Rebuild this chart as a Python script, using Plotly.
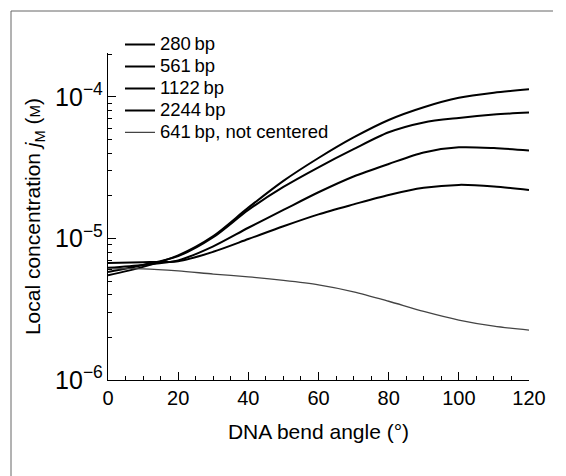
import plotly.graph_objects as go

angles = [0, 10, 20, 30, 40, 50, 60, 70, 80, 90, 100, 110, 120]

bp280 = [5.5e-6, 6.3e-6, 7.6e-6, 1.04e-5, 1.65e-5, 2.55e-5, 3.7e-5, 5.17e-5, 6.87e-5, 8.45e-5, 9.85e-5, 1.07e-4, 1.13e-4]
bp561 = [5.8e-6, 6.5e-6, 7.5e-6, 1.02e-5, 1.59e-5, 2.31e-5, 3.18e-5, 4.27e-5, 5.62e-5, 6.6e-5, 7.1e-5, 7.5e-5, 7.75e-5]
bp1122 = [6.2e-6, 6.5e-6, 7.0e-6, 8.8e-6, 1.19e-5, 1.59e-5, 2.12e-5, 2.74e-5, 3.36e-5, 4.05e-5, 4.4e-5, 4.35e-5, 4.18e-5]
bp2244 = [6.7e-6, 6.8e-6, 6.9e-6, 8.05e-6, 9.9e-6, 1.22e-5, 1.48e-5, 1.74e-5, 2.03e-5, 2.28e-5, 2.39e-5, 2.33e-5, 2.2e-5]
bp641nc = [6.1e-6, 6.1e-6, 5.9e-6, 5.6e-6, 5.35e-6, 5.05e-6, 4.7e-6, 4.2e-6, 3.6e-6, 3.05e-6, 2.65e-6, 2.4e-6, 2.25e-6]

x_major = [0, 20, 40, 60, 80, 100, 120]

series = [
    ("280\u2009bp", bp280, "black", 2.0),
    ("561\u2009bp", bp561, "black", 2.0),
    ("1122\u2009bp", bp1122, "black", 2.0),
    ("2244\u2009bp", bp2244, "black", 2.0),
    ("641\u2009bp, not centered", bp641nc, "#444444", 1.3),
]

font_family = "Liberation Sans, Arial, sans-serif"

fig = go.Figure()
for name, vals, col, w in series:
    fig.add_trace(go.Scatter(x=angles, y=vals, mode="lines",
                             name="<span style='font-size:18.5px'>" + name + "</span>",
                             line=dict(color=col, width=w, shape="spline", smoothing=0.8)))

fig.update_layout(
    width=566, height=476,
    margin=dict(l=108, r=37, t=53, b=96),
    paper_bgcolor="white", plot_bgcolor="white",
    font=dict(family=font_family, size=20, color="black"),
    showlegend=True,
    legend=dict(x=0.0285, y=1.075, xanchor="left", yanchor="top",
                bgcolor="rgba(0,0,0,0)", font=dict(size=14.6),
                tracegroupgap=0, itemwidth=30),
    xaxis=dict(range=[0, 120], tickvals=x_major,
               ticks="inside", ticklen=8, tickwidth=1.3, tickcolor="black",
               showline=True, linecolor="black", linewidth=1.3,
               showgrid=False, zeroline=False,
               tickfont=dict(size=20),
               minor=dict(ticks="inside", dtick=5, ticklen=4, tickwidth=1.2, tickcolor="black", showgrid=False),
               title=dict(text="DNA bend angle (\u00b0)", font=dict(size=21), standoff=16)),
    yaxis=dict(type="log", range=[-6, -3.69],
               tickmode="linear", tick0=0, dtick=1, exponentformat="power", showexponent="all",
               ticks="inside", ticklen=8, tickwidth=1.3, tickcolor="black",
               showline=True, linecolor="black", linewidth=1.3,
               showgrid=False, zeroline=False,
               tickfont=dict(size=20),
               minor=dict(ticks="inside", dtick="D1", ticklen=4, tickwidth=1.2, tickcolor="black", showgrid=False),
               title=dict(text="Local concentration <i>j</i><sub>M</sub> (<span style='font-size:15px'>M</span>)",
                          font=dict(size=21), standoff=8)),
    shapes=[
        dict(type="line", xref="paper", yref="paper", x0=-0.2304, x1=-0.2304, y0=1.1284, y1=-0.30,
             line=dict(color="#666666", width=1)),
        dict(type="line", xref="paper", yref="paper", x0=-0.2304, x1=1.057, y0=1.1284, y1=1.1284,
             line=dict(color="#666666", width=1)),
    ],
)

fig.write_html("out.html")
